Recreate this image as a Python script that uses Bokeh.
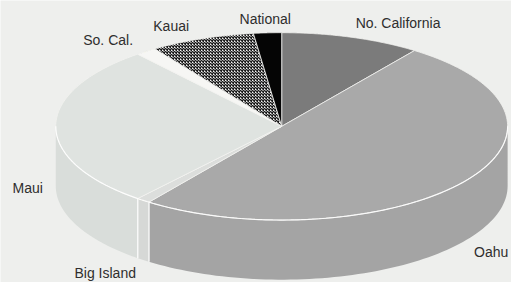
import numpy as np
from bokeh.plotting import figure
from bokeh.models import Range1d, ColumnDataSource
from bokeh.core.properties import value
from bokeh.embed import file_html
from bokeh.resources import INLINE

# ---- data ----
categories = ["No. California", "Oahu", "Big Island", "Maui", "So. Cal.", "Kauai", "National"]
shares = [10.0, 50.0, 1.0, 28.0, 1.5, 7.5, 2.0]

# ---- styles ----
top_colors = ["#7b7b7b", "#a9a9a9", "#dcdedc", "#dfe3e0", "#f6f6f4", "#f4f4f4", "#050505"]
side_colors = ["#737373", "#a4a4a4", "#d6d8d6", "#d9ddda", "#eeeeec", "#9a9a9a", "#050505"]
hatches = [None, None, None, None, None, "diagonal_cross", None]
label_pos = [(410, 24), (506, 266), (108, 288), (28, 198), (111, 42), (176, 27), (273, 20)]

BG = "#eeefed"
cx, cy, rx, ry, depth = 290.0, 133.0, 233.0, 99.0, 63.0

p = figure(width=511, height=282, output_backend="svg", toolbar_location=None,
           x_range=Range1d(0, 527), y_range=Range1d(298, 0),
           min_border=0, background_fill_color=BG, border_fill_color=BG)
p.axis.visible = False
p.grid.visible = False
p.outline_line_color = None

total = float(sum(shares))
starts, ends = [], []
a = 90.0
for s in shares:
    starts.append(a)
    a -= s / total * 360.0
    ends.append(a)

def ex(t):
    return cx + rx * np.cos(np.radians(t))

def ey(t):
    return cy - ry * np.sin(np.radians(t))

# side faces (front half: angles in [-180, 0])
for i in range(len(shares)):
    hi = min(starts[i], 0.0)
    lo = max(ends[i], -180.0)
    if hi <= lo:
        continue
    t = np.linspace(hi, lo, 80)
    xs = list(ex(t)) + list(ex(t[::-1]))
    ys = list(ey(t)) + list(ey(t[::-1]) + depth)
    kw = {}
    if hatches[i]:
        kw = dict(hatch_pattern=hatches[i], hatch_color="#222222", hatch_scale=3.0, hatch_weight=1.4)
    p.patch(xs, ys, fill_color=side_colors[i], line_color=None, **kw)
    # boundary edges
    for tb in (hi, lo):
        if -179.5 < tb < -0.5:
            p.line([ex(tb), ex(tb)], [ey(tb), ey(tb) + depth], line_color="white", line_width=1.2, line_alpha=0.8)

# top faces
for i in range(len(shares)):
    t = np.linspace(starts[i], ends[i], 120)
    xs = [cx] + list(ex(t))
    ys = [cy] + list(ey(t))
    kw = {}
    if hatches[i]:
        kw = dict(hatch_pattern=hatches[i], hatch_color="#1a1a1a", hatch_scale=3.0, hatch_weight=1.4)
    p.patch(xs, ys, fill_color=top_colors[i], line_color="#f2f2f0", line_width=0.8, **kw)

# seam between top and side
t = np.linspace(0, -180, 200)
p.line(ex(t), ey(t), line_color="white", line_width=1.2, line_alpha=0.85)

src = ColumnDataSource(dict(x=[q[0] for q in label_pos], y=[q[1] for q in label_pos], text=categories))
p.text(x="x", y="y", text="text", source=src, text_font=value("Liberation Sans"),
       text_font_size="14px", text_color="#2e2e2e", text_align="center", text_baseline="middle")

open("out.html", "w").write(file_html(p, INLINE))
